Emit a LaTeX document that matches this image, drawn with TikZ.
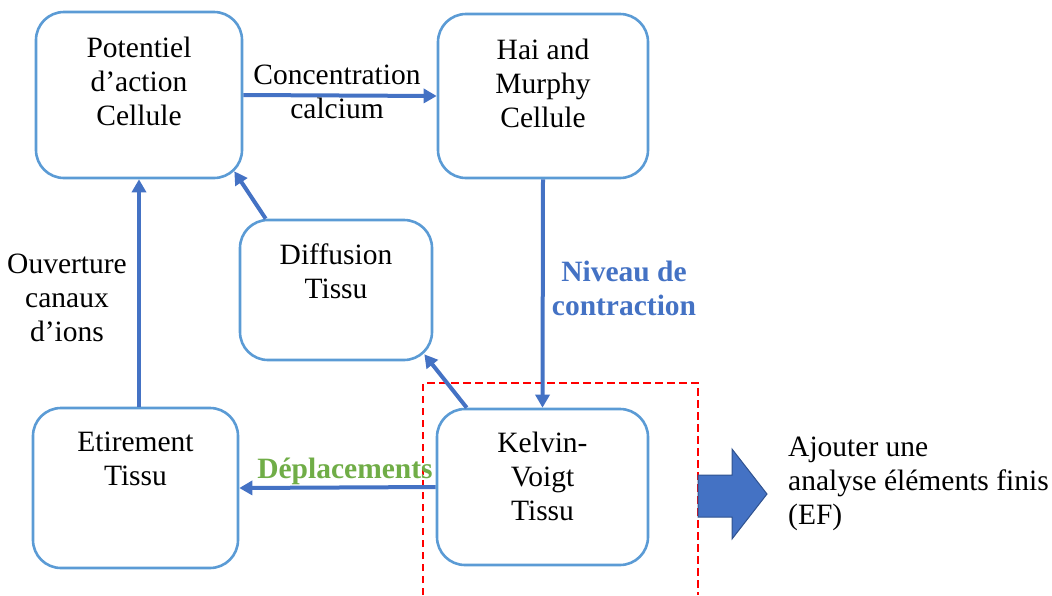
\documentclass[tikz,border=0pt]{standalone}
\usepackage{fontspec}
\setmainfont{Liberation Serif}
\usetikzlibrary{calc,arrows.meta}
\definecolor{boxblue}{HTML}{5B9BD5}
\definecolor{arrblue}{HTML}{4472C4}
\definecolor{darkblue}{HTML}{2F528F}
\definecolor{labgreen}{HTML}{70AD47}
\begin{document}
\begin{tikzpicture}[x=1pt,y=-1pt,
  box/.style={draw=boxblue,line width=2.6pt,rounded corners=28pt,minimum width=#1,inner sep=0pt},
  boxtxt/.style={anchor=north,inner sep=0pt,align=center,font=\fontsize{29.5}{34}\selectfont},
  lab/.style={anchor=north,inner sep=0pt,align=center,font=\fontsize{29.5}{34}\selectfont},
  conn/.style={draw=arrblue,line width=4pt,-{Triangle[length=13pt,width=14pt]}},
]
\useasboundingbox (0,0) rectangle (1052,595);
% boxes
\node[box=206pt,minimum height=166pt] (A) at (139,95) {};
\node[box=210pt,minimum height=164pt] (B) at (543,96) {};
\node[box=192pt,minimum height=140pt] (C) at (336,290) {};
\node[box=205pt,minimum height=160pt] (D) at (135.5,488) {};
\node[box=211pt,minimum height=156pt] (E) at (542.5,487) {};
% box texts
\node[boxtxt] (At) at (139,37) {Potentiel\\d’action\\Cellule};
\node[boxtxt] (Bt) at (543,39) {Hai and\\Murphy\\Cellule};
\node[boxtxt] (Ct) at (336,244) {Diffusion\\Tissu};
\node[boxtxt] (Dt) at (135.5,432) {Etirement\\Tissu};
\node[boxtxt] (Et) at (542.5,432) {Kelvin-\\Voigt\\Tissu};
% red dashed frame
\draw[red,line width=2.8pt,dash pattern=on 7.5pt off 4.5pt] (423,595) -- (423,383) -- (698,383) -- (698,595);
% connectors
\draw[conn] (A.east) -- (B.west);
\draw[conn] (B.south) -- (E.north);
\draw[conn] (A.south |- D.north) -- (A.south);
\draw[conn] (E.west) -- (D.east);
\draw[conn] ($(E.north west)+(31,0)$) -- ($(C.south east)+(-9,-7)$);
\draw[conn] ($(C.north west)+(27,0)$) -- ($(A.south east)+(-9,-8)$);
% labels
\node[lab] (l1) at (337,65) {Concentration\\calcium};
\node[lab,text=arrblue,font=\bfseries\fontsize{29.5}{34}\selectfont] (l2) at (624,261) {Niveau de\\contraction};
\node[lab] (l3) at (67,254) {Ouverture\\canaux\\d’ions};
\node[lab,text=labgreen,font=\bfseries\fontsize{29.5}{34}\selectfont] (l4) at (345,458) {Déplacements};
% big arrow
\path[fill=arrblue,draw=darkblue,line width=1pt] (698,475) -- (732,475) -- (732,449) -- (767,494) -- (732,539) -- (732,517) -- (698,517) -- cycle;
\node[lab,anchor=north west,align=left] (ef) at (788,437) {Ajouter une\\analyse éléments finis\\(EF)};
\end{tikzpicture}
\end{document}
